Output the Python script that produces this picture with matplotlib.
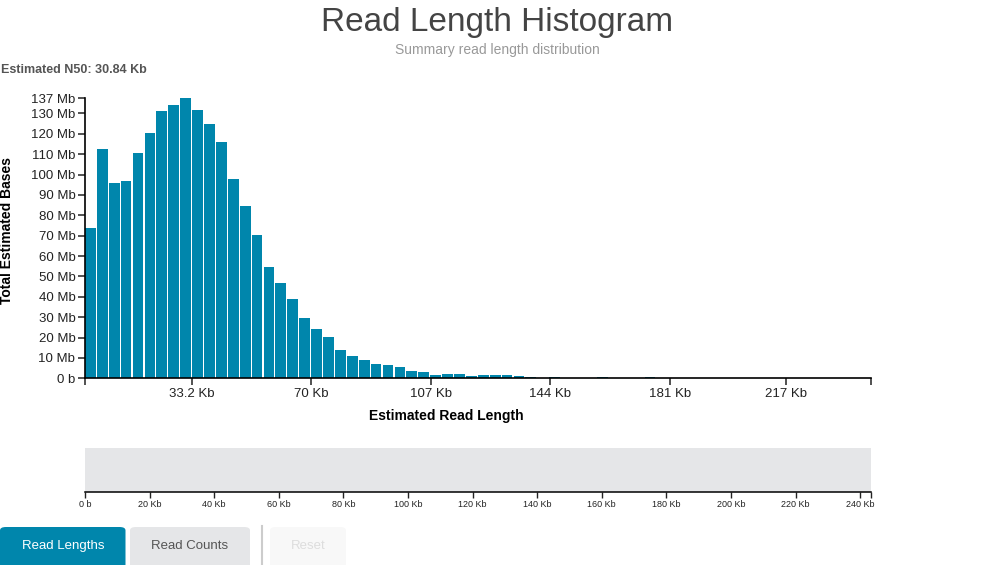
import matplotlib
matplotlib.use('Agg')
import matplotlib.pyplot as plt
from matplotlib.patches import FancyBboxPatch
from matplotlib.lines import Line2D

plt.rcParams['font.family'] = ['Liberation Sans', 'DejaVu Sans']

# histogram data: bin width in Kb and total bases per bin in Mb
bin_width = 3.686
n_bins = 66
bases_mb = [73.9, 112.5, 95.8, 96.8, 110.6, 120.4, 131.2, 134.1, 137.4, 131.7,
            124.8, 116.0, 97.8, 84.6, 70.4, 54.7, 46.9, 38.9, 29.6, 24.2,
            20.3, 13.9, 11.0, 9.0, 7.1, 6.6, 5.6, 3.6, 3.1, 1.7,
            2.2, 2.2, 1.2, 1.7, 1.7, 1.7, 1.2, 0.7, 0.0, 0.6,
            0.0, 0.0, 0.0, 0.5, 0.0, 0.0, 0.0, 0.5]

x_tick_vals = [33.2, 70, 107, 144, 181, 217]
x_tick_labels = ['33.2 Kb', '70 Kb', '107 Kb', '144 Kb', '181 Kb', '217 Kb']
y_tick_vals = list(range(0, 140, 10))
brush_ticks = list(range(0, 260, 20))
brush_labels = ['0 b'] + [f'{v} Kb' for v in brush_ticks[1:]]

bar_color = '#0086AC'
W, H = 993, 565

fig = plt.figure(figsize=(W / 100, H / 100), dpi=100)


def box(x0, y0, x1, y1):
    # pixel box (top-left origin) -> figure fraction rect
    return [x0 / W, 1 - y1 / H, (x1 - x0) / W, (y1 - y0) / H]


x_max = n_bins * bin_width
y_max = max(bases_mb)

# main histogram
ax = fig.add_axes(box(85, 98.3, 870.7, 378.3))
lefts = [i * bin_width for i in range(len(bases_mb))]
ax.bar(lefts, bases_mb, width=bin_width - 0.35, align='edge', color=bar_color, linewidth=0)
ax.set_xlim(0, x_max)
ax.set_ylim(0, y_max)
for s in ['top', 'right']:
    ax.spines[s].set_visible(False)
for s in ['left', 'bottom']:
    ax.spines[s].set_linewidth(1.2)
ax.set_xticks([0] + x_tick_vals + [x_max])
ax.set_xticklabels([''] + x_tick_labels + [''])
ax.set_yticks(y_tick_vals + [y_max])
ax.set_yticklabels(['0 b'] + [f'{v} Mb' for v in y_tick_vals[1:]] + [f'{y_max:.0f} Mb'])
ax.tick_params(axis='both', length=5, width=1.1, labelsize=9.5, colors='#222222', pad=2)
ax.set_xlabel('Estimated Read Length', fontsize=10, fontweight='bold')
ax.xaxis.set_label_coords((446 - 85) / 785.7, -0.11)
fig.text(7 / W, 1 - 230 / H, 'Total Estimated Bases', rotation=90, fontsize=10,
         fontweight='bold', ha='center', va='center')

# titles
fig.text(497 / W, 1 - 22 / H, 'Read Length Histogram', fontsize=24, color='#444444',
         ha='center', va='center')
fig.text(497 / W, 1 - 50 / H, 'Summary read length distribution', fontsize=10,
         color='#999999', ha='center', va='center')
fig.text(1 / W, 1 - 70 / H, 'Estimated N50: 30.84 Kb', fontsize=9, fontweight='bold',
         color='#555555', ha='left', va='center')

# brush / overview strip
bx = fig.add_axes(box(85, 448, 870.7, 492))
bx.set_facecolor('#E5E6E8')
bx.set_xlim(0, x_max)
bx.set_ylim(0, 1)
for s in ['top', 'right', 'left']:
    bx.spines[s].set_visible(False)
bx.spines['bottom'].set_linewidth(1.1)
bx.set_yticks([])
bx.set_xticks(brush_ticks + [x_max])
bx.set_xticklabels(brush_labels + [''])
bx.tick_params(axis='x', length=4, width=1, labelsize=6.5, colors='#222222', pad=2)

# buttons
def button(x0, x1, face, label, tcolor):
    r = FancyBboxPatch((x0 / W, 1 - 568 / H), (x1 - x0) / W, 41 / H,
                       boxstyle='round,pad=0,rounding_size=0.006',
                       transform=fig.transFigure, facecolor=face, edgecolor='none')
    fig.patches.append(r)
    fig.text((x0 + x1) / 2 / W, 1 - 546 / H, label, fontsize=9.5, color=tcolor,
             ha='center', va='center')


button(0, 125.5, bar_color, 'Read Lengths', 'white')
button(130, 250, '#E5E6E8', 'Read Counts', '#555555')
button(270, 346, '#F8F8F8', 'Reset', '#DDDDDD')
fig.lines.append(Line2D([262 / W, 262 / W], [0, 1 - 526 / H], transform=fig.transFigure,
                        color='#CCCCCC', linewidth=1.5))

fig.savefig('out.png', dpi=100)
